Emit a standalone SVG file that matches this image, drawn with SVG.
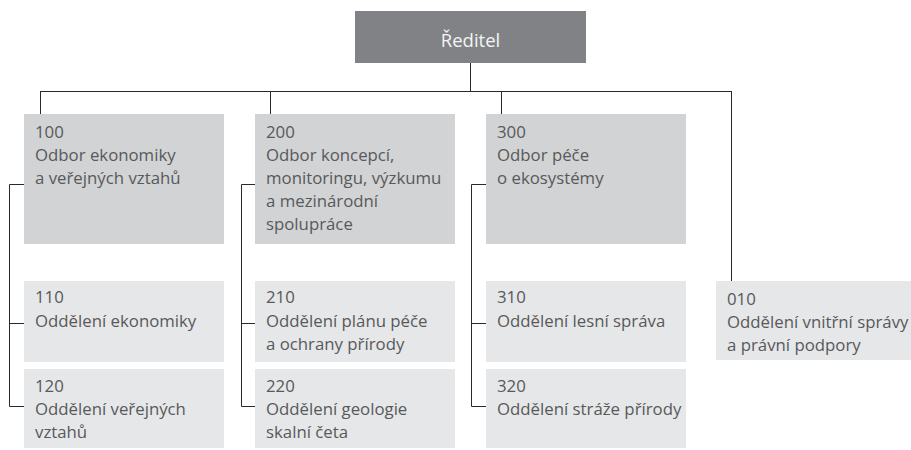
<svg xmlns="http://www.w3.org/2000/svg" width="911" height="450" viewBox="0 0 911 450">
<style>
.t{font-family:"Open Sans","Liberation Sans",sans-serif;font-size:16.8px;fill:#58595b}
.top{fill:#808285}
.l1{fill:#d1d3d4}
.l2{fill:#e6e7e8}
.c{fill:none;stroke:#2b2a2b;stroke-width:1}
</style>
<rect width="911" height="450" fill="#fff"/>
<g id="connectors" class="c">
<path d="M470.5,63 V91.5 M40.5,91.5 H731.5 M40.5,91 V114 M270.5,91 V114 M501.5,91 V114 M731.5,91 V281"/>
<path d="M24,184.5 H9.5 V406.5 H24 M9.5,323.5 H24"/>
<path d="M255,184.5 H241.5 V406.5 H255 M241.5,323.5 H255"/>
<path d="M486,184.5 H471.5 V406.5 H486 M471.5,323.5 H486"/>
</g>
<g id="reditel">
<rect class="top" x="355" y="11" width="231" height="52"/>
<text x="470.5" y="47" text-anchor="middle" style="font-family:'Open Sans','Liberation Sans',sans-serif;font-size:18.5px;fill:#f4f4f5">Ředitel</text>
</g>
<g id="n100">
<rect class="l1" x="24" y="114" width="200" height="130"/>
<text class="t" x="35"><tspan x="35" y="138">100</tspan><tspan x="35" y="161">Odbor ekonomiky</tspan><tspan x="35" y="184">a veřejných vztahů</tspan></text>
</g>
<g id="n200">
<rect class="l1" x="255" y="114" width="200" height="130"/>
<text class="t"><tspan x="266" y="138">200</tspan><tspan x="266" y="161">Odbor koncepcí,</tspan><tspan x="266" y="184">monitoringu, výzkumu</tspan><tspan x="266" y="207">a mezinárodní</tspan><tspan x="266" y="230">spolupráce</tspan></text>
</g>
<g id="n300">
<rect class="l1" x="486" y="114" width="200" height="130"/>
<text class="t"><tspan x="497" y="138">300</tspan><tspan x="497" y="161">Odbor péče</tspan><tspan x="497" y="184">o ekosystémy</tspan></text>
</g>
<g id="n110">
<rect class="l2" x="24" y="281" width="200" height="81"/>
<text class="t"><tspan x="35" y="303">110</tspan><tspan x="35" y="327">Oddělení ekonomiky</tspan></text>
</g>
<g id="n120">
<rect class="l2" x="24" y="369" width="200" height="79"/>
<text class="t"><tspan x="35" y="392">120</tspan><tspan x="35" y="415">Oddělení veřejných</tspan><tspan x="35" y="438">vztahů</tspan></text>
</g>
<g id="n210">
<rect class="l2" x="255" y="281" width="200" height="81"/>
<text class="t"><tspan x="266" y="303">210</tspan><tspan x="266" y="327">Oddělení plánu péče</tspan><tspan x="266" y="350">a ochrany přírody</tspan></text>
</g>
<g id="n220">
<rect class="l2" x="255" y="369" width="200" height="79"/>
<text class="t"><tspan x="266" y="392">220</tspan><tspan x="266" y="415">Oddělení geologie</tspan><tspan x="266" y="438">skalní četa</tspan></text>
</g>
<g id="n310">
<rect class="l2" x="486" y="281" width="200" height="81"/>
<text class="t"><tspan x="497" y="303">310</tspan><tspan x="497" y="327">Oddělení lesní správa</tspan></text>
</g>
<g id="n320">
<rect class="l2" x="486" y="369" width="200" height="79"/>
<text class="t"><tspan x="497" y="392">320</tspan><tspan x="497" y="415">Oddělení stráže přírody</tspan></text>
</g>
<g id="n010">
<rect class="l2" x="716" y="281" width="195" height="79"/>
<text class="t"><tspan x="727" y="305">010</tspan><tspan x="727" y="328">Oddělení vnitřní správy</tspan><tspan x="727" y="351">a právní podpory</tspan></text>
</g>
</svg>
